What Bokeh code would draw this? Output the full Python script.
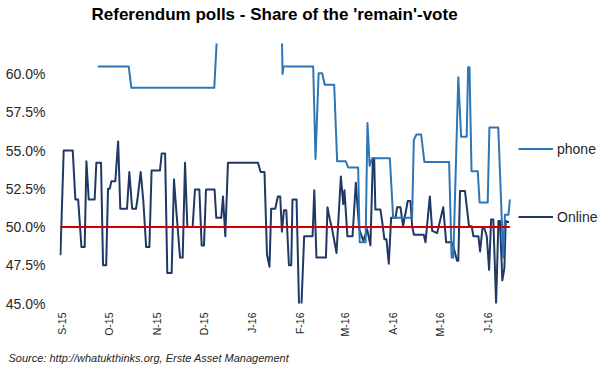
from bokeh.plotting import figure
from bokeh.models import (FixedTicker, PrintfTickFormatter, Legend, LegendItem, Range1d, Title)
from bokeh.embed import file_html
from bokeh.resources import INLINE
import math

# ---- data (days counted from 1 Sep 2015, values in % 'remain') ----
online_day = [-1.1, 1.0, 6.8, 8.5, 10.3, 12.4, 14.5, 15.6, 17.1, 20.9, 22.0, 25.0, 26.3, 28.3,
              29.5, 30.6, 31.7, 34.2, 36.0, 37.4, 41.7, 43.2, 45.0, 47.5, 48.4, 50.5, 52.2,
              54.0, 56.1, 57.5, 62.9, 64.0, 66.2, 67.6, 70.4, 71.9, 73.6, 75.8, 77.5, 79.0,
              80.5, 83.9, 85.4, 88.2, 89.7, 91.2, 92.5, 98.0, 99.1, 102.3, 103.4, 104.9,
              106.6, 125.9, 127.6, 130.1, 131.7, 133.3, 134.4, 137.0, 138.7, 140.2, 141.3,
              142.6, 144.1, 145.8, 147.3, 148.1, 150.7, 152.4, 153.7, 155.6, 161.0, 162.1,
              163.5, 169.6, 170.6, 172.1, 173.6, 176.4, 179.2, 180.7, 181.5, 183.4, 186.7,
              188.8, 191.0, 193.7, 196.1, 198.2, 199.8, 200.6, 201.4, 204.6, 205.7, 207.2,
              208.5, 210.0, 211.5, 214.3, 215.4, 217.5, 219.2, 222.2, 223.9, 225.0, 226.1,
              232.5, 233.6, 236.4, 237.9, 241.1, 245.0, 246.9, 250.5, 251.6, 253.9, 254.7,
              255.8, 259.0, 261.6, 263.3, 264.4, 267.6, 268.7, 270.2, 271.5, 273.0, 274.5,
              275.8, 277.2, 279.0, 280.5, 281.5, 283.0, 284.3, 285.2, 287.3]
online_val = [48.15, 55.0, 55.0, 51.8, 51.8, 48.7, 48.7, 54.3, 51.8, 51.8, 54.2, 54.2, 47.5, 47.5,
              52.5, 52.5, 53.0, 53.0, 55.6, 51.2, 51.2, 53.6, 51.2, 51.2, 51.8, 53.6, 51.7,
              48.7, 48.7, 53.7, 53.7, 54.8, 54.8, 47.0, 47.0, 53.1, 50.8, 48.0, 48.0, 54.2,
              50.0, 50.0, 52.45, 52.45, 48.8, 48.8, 52.45, 52.45, 50.6, 50.6, 52.0, 49.4,
              54.2, 54.2, 53.6, 53.6, 48.2, 47.4, 51.2, 51.2, 52.0, 52.0, 49.7,
              51.1, 51.1, 47.5, 47.5, 51.8, 51.8, 44.5, 44.5, 49.4, 49.4, 52.4,
              48.0, 48.0, 51.3, 50.5, 49.85, 48.3, 53.3, 51.5, 52.4, 49.4, 49.4,
              52.9, 49.85, 49.1, 49.85, 48.8, 54.5, 54.5, 51.15, 51.15, 50.4, 49.2,
              49.2, 47.6, 50.6, 50.6, 51.3, 51.3, 50.05, 51.7, 51.7, 50.1, 49.5,
              49.5, 49.0, 52.0, 49.75, 49.6, 51.3, 49.0, 49.0, 48.7, 47.8, 47.8,
              52.35, 52.35, 50.05, 50.05, 49.4, 49.4, 48.4, 49.9, 49.9, 49.4, 47.2,
              50.5, 50.5, 45.0, 50.4, 50.4, 46.5, 47.3, 50.4, 50.3]

phone_day = [22.9, 42.8, 44.5, 97.8, 100.1, 140.9, 141.7, 142.3, 161.4, 162.9, 164.9, 167.2,
             168.8, 174.9, 176.8, 182.3, 183.9, 190.3, 191.3, 195.1, 196.3, 197.7, 199.3,
             210.7, 212.8, 225.0, 226.1, 227.8, 230.8, 232.9, 248.8, 250.4, 251.5, 254.7,
             256.5, 260.1, 261.0, 261.9, 263.2, 267.2, 268.4, 273.6, 274.7, 280.4, 283.6,
             284.7, 286.9, 287.9]
phone_val = [60.5, 60.5, 59.1, 59.1, 63.5, 65.0, 60.0, 60.5, 60.5, 54.45, 60.05, 60.05,
             59.3, 59.3, 54.3, 54.3, 53.9, 53.9, 49.0, 49.0, 56.8, 54.0, 54.5,
             54.5, 50.6, 50.6, 55.7, 56.05, 56.05, 54.25, 54.25, 48.0, 48.0, 59.8,
             55.9, 55.9, 60.45, 60.45, 53.65, 53.65, 51.6, 51.6, 56.5, 56.5, 48.0,
             50.8, 50.8, 51.8]

ref_day = [-1.1, 287.9]
ref_val = [50.0, 50.0]

month_ticks = [0, 30, 61, 91, 122, 153, 182, 213, 243, 274]
month_labels = ["S-15", "O-15", "N-15", "D-15", "J-16", "F-16", "M-16", "A-16", "M-16", "J-16"]
y_ticks = [45.0, 47.5, 50.0, 52.5, 55.0, 57.5, 60.0]

title_text = "Referendum polls - Share of the 'remain'-vote"
source_text = "Source: http://whatukthinks.org, Erste Asset Management"

FONT = "Liberation Sans"
TXT = "#262626"

p = figure(frame_width=452, frame_height=260, output_backend="svg", toolbar_location=None,
           x_range=Range1d(-1.7, 288.9), y_range=Range1d(45.0, 62.0),
           min_border_left=59, min_border_right=89, min_border_top=42, min_border_bottom=65)
p.outline_line_color = None
p.background_fill_color = "white"
p.border_fill_color = "white"
p.xgrid.visible = False
p.ygrid.visible = False

r_online = p.line(online_day, online_val, line_color="#1F3864", line_width=2, line_join="round")
r_phone = p.line(phone_day, phone_val, line_color="#2E75B6", line_width=2, line_join="round")
p.line(ref_day, ref_val, line_color="#D00000", line_width=2)

# axes
p.yaxis.ticker = FixedTicker(ticks=y_ticks)
p.yaxis.formatter = PrintfTickFormatter(format="%.1f%%")
p.xaxis.ticker = FixedTicker(ticks=month_ticks)
p.xaxis.major_label_overrides = {t: l for t, l in zip(month_ticks, month_labels)}
p.xaxis.major_label_orientation = math.pi / 2
for ax in (p.xaxis[0], p.yaxis[0]):
    ax.axis_line_color = None
    ax.major_tick_line_color = None
    ax.minor_tick_line_color = None
    ax.major_tick_in = 0
    ax.major_tick_out = 0
    ax.minor_tick_out = 0
    ax.major_label_text_font = FONT
    ax.major_label_text_color = TXT
p.yaxis.major_label_text_font_size = "14px"
p.yaxis.major_label_standoff = 14
p.xaxis.major_label_text_font_size = "10.5px"
p.xaxis.major_label_standoff = 9

legend = Legend(items=[LegendItem(label="phone", renderers=[r_phone]),
                       LegendItem(label="Online", renderers=[r_online])],
                location="center_left", orientation="vertical",
                padding=0, margin=7, spacing=48,
                glyph_width=35, glyph_height=20, label_height=20,
                label_standoff=4, label_text_font=FONT, label_text_font_size="14px",
                label_text_color=TXT, border_line_color=None,
                background_fill_alpha=0,
                title=" ", title_text_font_size="10px", title_standoff=8)
p.add_layout(legend, "right")

p.title.text = title_text
p.title.text_font = FONT
p.title.text_font_size = "17px"
p.title.text_font_style = "bold"
p.title.text_color = "black"
p.title.align = "left"
p.title.offset = 32
p.title.standoff = 5

# thin blank spacers that only set the distance of the texts from the plot area
p.add_layout(Title(text=" ", text_font_size="1px", standoff=14), "above")
p.add_layout(Title(text=" ", text_font_size="1px", standoff=7), "below")
p.add_layout(Title(text=source_text, text_font=FONT, text_font_size="11px",
                   text_font_style="italic", text_color=TXT, align="left",
                   offset=-51, standoff=0), "below")

open("out.html", "w").write(file_html(p, INLINE))
